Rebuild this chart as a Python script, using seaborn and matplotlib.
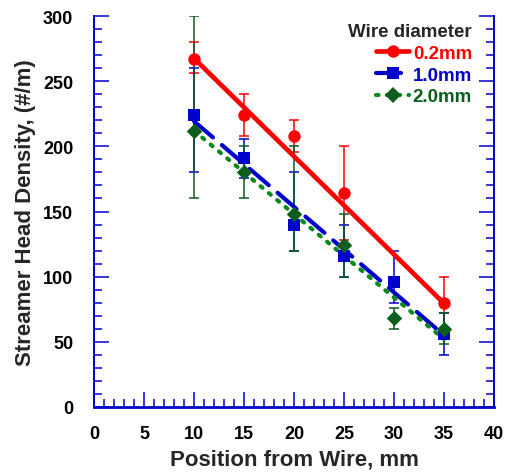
import numpy as np
import pandas as pd
import matplotlib
matplotlib.use("Agg")
import matplotlib.pyplot as plt
from matplotlib.lines import Line2D
from matplotlib.ticker import MultipleLocator
import seaborn as sns

# ---- data -------------------------------------------------------------
positions = [10, 15, 20, 25, 30, 35]

pos_02 = [10, 15, 20, 25, 35]
dens_02 = [267, 224, 208, 164, 80]
low_02 = [256, 208, 196, 128, 60]
high_02 = [280, 240, 220, 200, 100]

dens_10 = [224, 191, 140, 116, 96, 56]
low_10 = [180, 176, 120, 100, 80, 40]
high_10 = [260, 206, 180, 140, 120, 72]

dens_20 = [212, 180, 148, 124, 68, 60]
low_20 = [160, 160, 120, 100, 60, 48]
high_20 = [300, 200, 200, 148, 76, 72]

# linear trend end points (x = 10 and x = 35)
fit_x = [10, 35]
fit_02 = [267.5, 79.5]
fit_10 = [219.3, 55.1]
fit_20 = [212.0, 52.0]

labels = ["0.2mm", "1.0mm", "2.0mm"]
x_ticks = [0, 5, 10, 15, 20, 25, 30, 35, 40]
y_ticks = [0, 50, 100, 150, 200, 250, 300]

# ---- style ------------------------------------------------------------
sns.set_style("white")
plt.rcParams["font.family"] = ["Liberation Sans", "DejaVu Sans"]
plt.rcParams["font.weight"] = "bold"

RED = "#FF0000"
BLUE = "#0000CC"
GREEN_LINE = "#0A8A1E"
GREEN_MK = "#0B5E1C"
AXIS = "#0000CC"

fig = plt.figure(figsize=(5.16, 4.77), dpi=100)
ax = fig.add_axes([94 / 516, (477 - 408) / 477, 400 / 516, 391 / 477])

series = [
    dict(x=pos_02, y=dens_02, lo=low_02, hi=high_02, fit=fit_02,
         ecolor=RED, mcolor=RED, lcolor=RED, marker="o", s=80,
         ls="-", lw=3.4),
    dict(x=positions, y=dens_10, lo=low_10, hi=high_10, fit=fit_10,
         ecolor=BLUE, mcolor=BLUE, lcolor=BLUE, marker="s", s=82,
         ls=(0, (6.0, 2.8)), lw=3.0),
    dict(x=positions, y=dens_20, lo=low_20, hi=high_20, fit=fit_20,
         ecolor=GREEN_MK, mcolor=GREEN_MK, lcolor=GREEN_LINE, marker="D", s=62,
         ls=(0, (0.6, 2.0)), lw=3.0),
]

# error bars
for sr in series:
    y = np.array(sr["y"], float)
    yerr = np.vstack([y - np.array(sr["lo"]), np.array(sr["hi"]) - y])
    ax.errorbar(sr["x"], y, yerr=yerr, fmt="none", ecolor=sr["ecolor"],
                elinewidth=1.1, capsize=3.5, capthick=1.1, zorder=2)

# trend lines
for sr in series:
    sns.lineplot(x=fit_x, y=sr["fit"], ax=ax, color=sr["lcolor"],
                 linewidth=sr["lw"], linestyle=sr["ls"],
                 dash_capstyle="round", solid_capstyle="butt", zorder=3)

# markers
for sr in series:
    sns.scatterplot(x=sr["x"], y=sr["y"], ax=ax, color=sr["mcolor"],
                    marker=sr["marker"], s=sr["s"], linewidth=0, zorder=4)

# ---- axes ---------------------------------------------------------------
ax.set_xlim(0, 40)
ax.set_ylim(0, 300)
ax.xaxis.set_major_locator(MultipleLocator(5))
ax.xaxis.set_minor_locator(MultipleLocator(1))
ax.yaxis.set_major_locator(MultipleLocator(50))
ax.yaxis.set_minor_locator(MultipleLocator(10))
ax.set_xticks(x_ticks)
ax.set_yticks(y_ticks)
ax.set_xticklabels([str(v) for v in x_ticks])
ax.set_yticklabels([str(v) for v in y_ticks])

ax.tick_params(axis="both", which="both", direction="in", colors=AXIS,
               labelcolor="black", labelsize=13)
ax.tick_params(axis="y", which="both", left=True, right=True)
ax.tick_params(axis="x", which="both", bottom=True, top=False)
ax.tick_params(which="major", length=11, width=1.1)
ax.tick_params(which="minor", length=6, width=1.1)
ax.tick_params(axis="y", pad=15)
ax.tick_params(axis="x", pad=13)

for side in ["left", "right", "bottom"]:
    ax.spines[side].set_visible(True)
    ax.spines[side].set_color(AXIS)
ax.spines["left"].set_linewidth(1.4)
ax.spines["right"].set_linewidth(1.4)
ax.spines["bottom"].set_linewidth(2.0)
ax.spines["top"].set_visible(False)

ax.set_xlabel("Position from Wire, mm", fontsize=16, fontweight="bold")
ax.set_ylabel("Streamer Head Density, (#/m)", fontsize=16, fontweight="bold")
ax.xaxis.set_label_coords(0.5, -0.133)
ax.yaxis.set_label_coords(-0.172, 0.5)
ax.yaxis.label.set_va("center")
ax.xaxis.label.set_va("center")

# ---- legend -------------------------------------------------------------
handles = []
for sr in series:
    handles.append(Line2D([], [], color=sr["lcolor"], linestyle=sr["ls"],
                          linewidth=sr["lw"], dash_capstyle="round",
                          marker=sr["marker"], markersize=np.sqrt(sr["s"]),
                          markerfacecolor=sr["mcolor"], markeredgewidth=0))
leg = ax.legend(handles, labels, title="Wire diameter",
                loc="upper right", bbox_to_anchor=(472 / 516, 1 - 24 / 477),
                bbox_transform=fig.transFigure, frameon=False,
                prop=dict(size=13.5, weight="bold"),
                title_fontproperties=dict(size=13.5, weight="bold"),
                labelcolor=[RED, BLUE, GREEN_MK], handlelength=1.75,
                handletextpad=0.2, labelspacing=0.25, borderpad=0,
                borderaxespad=0, alignment="right")

fig.savefig("out.png", dpi=100, facecolor="white")
